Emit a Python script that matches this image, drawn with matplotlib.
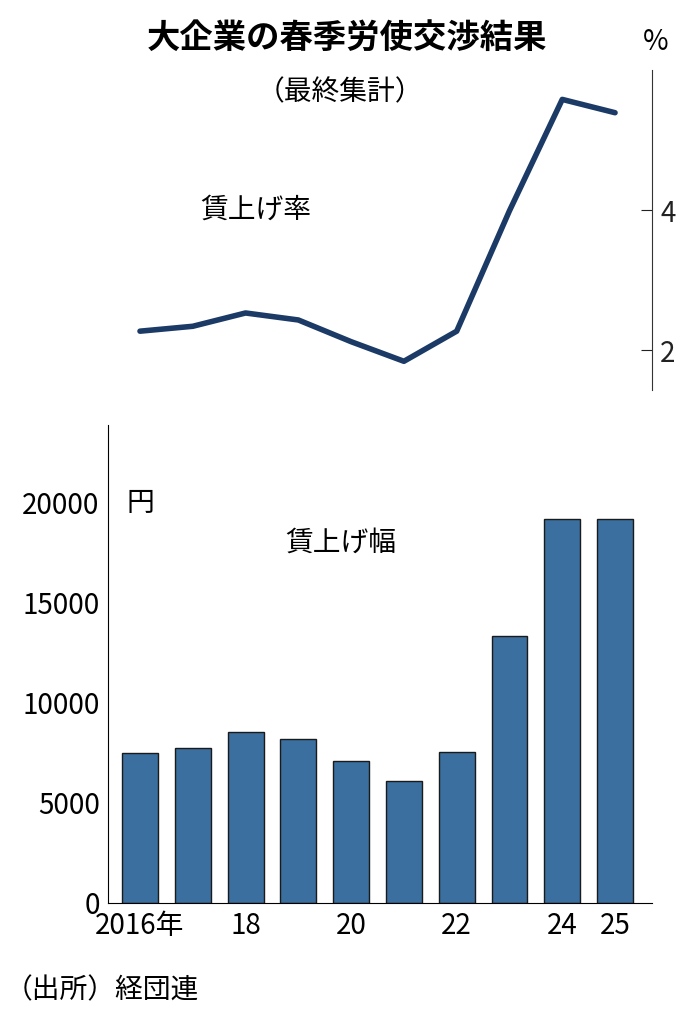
import matplotlib.pyplot as plt

plt.rcParams['font.family'] = ['Noto Sans CJK JP', 'DejaVu Sans']

years = [2016, 2017, 2018, 2019, 2020, 2021, 2022, 2023, 2024, 2025]
rate = [2.27, 2.34, 2.53, 2.43, 2.12, 1.84, 2.27, 3.99, 5.58, 5.39]
amount = [7497, 7755, 8539, 8200, 7096, 6124, 7562, 13362, 19210, 19195]
xtick_pos = [2016, 2018, 2020, 2022, 2024, 2025]
xtick_lab = ['2016年', '18', '20', '22', '24', '25']

W, H = 693, 1024
fig = plt.figure(figsize=(W / 100, H / 100), dpi=100)

L, R = 108 / W, 652 / W
xlim = (2016 - 0.606, 2025 + 0.7)

# line chart (rate)
ax1 = fig.add_axes([L, 1 - 390 / H, R - L, 320 / H])
ax1.plot(years, rate, color='#1b3a66', lw=4, solid_capstyle='round')
ax1.set_xlim(*xlim)
ax1.set_ylim(1.43, 6.0)
for s in ['top', 'left', 'bottom']:
    ax1.spines[s].set_visible(False)
ax1.spines['right'].set_color('#333333')
ax1.yaxis.tick_right()
ax1.set_yticks([2, 4])
ax1.tick_params(axis='y', direction='in', length=8, labelsize=20, pad=6, colors='#222222')
ax1.set_xticks([])
ax1.text(2018.2, 4.0, '賃上げ率', fontsize=20, ha='center', va='center')

# bar chart (amount)
ax2 = fig.add_axes([L, 1 - 903 / H, R - L, 478 / H])
ax2.bar(years, amount, width=0.68, color='#3a6f9f', edgecolor='#1a1a1a', lw=1)
ax2.set_xlim(*xlim)
ax2.set_ylim(0, 23900)
for s in ['top', 'right']:
    ax2.spines[s].set_visible(False)
ax2.set_yticks([0, 5000, 10000, 15000, 20000])
ax2.set_xticks(xtick_pos)
ax2.set_xticklabels(xtick_lab)
ax2.tick_params(axis='y', length=0, labelsize=20, pad=6)
ax2.tick_params(axis='x', length=0, labelsize=20, pad=6)
ax2.text(2016.0, 20000, '円', fontsize=20, va='center', ha='center')
ax2.text(2019.8, 18000, '賃上げ幅', fontsize=20, ha='center', va='center')

fig.text(347 / W, 1 - 38 / H, '大企業の春季労使交渉結果', fontsize=24, fontweight='bold',
         ha='center', va='center')
fig.text(340 / W, 1 - 92 / H, '（最終集計）', fontsize=20, ha='center', va='center')
fig.text(656 / W, 1 - 42 / H, '%', fontsize=20, ha='center', va='center')
fig.text(5 / W, 1 - 990 / H, '（出所）経団連', fontsize=20, ha='left', va='center')

fig.savefig('out.png', dpi=100)
